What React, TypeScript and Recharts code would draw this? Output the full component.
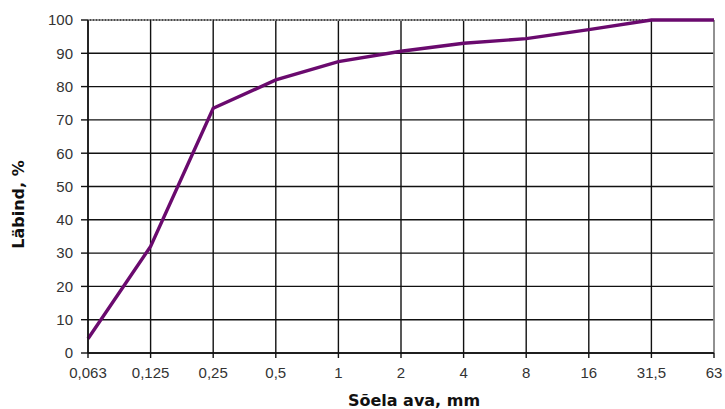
import { LineChart, Line, XAxis, YAxis, CartesianGrid, ReferenceLine } from 'recharts'

const sieveSizes = ['0,063', '0,125', '0,25', '0,5', '1', '2', '4', '8', '16', '31,5', '63']
const passing = [4.3, 32, 73.5, 82, 87.5, 90.6, 93, 94.4, 97.1, 100, 100]
const yTicks = [0, 10, 20, 30, 40, 50, 60, 70, 80, 90, 100]

const data = sieveSizes.map((size, i) => ({ size, value: passing[i] }))

const tickStyle = { fontSize: 15, fill: '#333', fontFamily: '"Liberation Sans", Arial, sans-serif' }
const titleStyle = { fontSize: 16, fontWeight: 'bold', fill: '#111', fontFamily: '"DejaVu Sans", Verdana, sans-serif' }

type LabelProps = { viewBox?: { x: number; y: number; width: number; height: number } }

// titles sit a bit off centre in the original, so draw them by hand
const XTitle = ({ viewBox }: LabelProps) => {
  if (!viewBox) return null
  return (
    <text x={viewBox.x + viewBox.width / 2 + 13} y={viewBox.y + 53} textAnchor="middle" style={titleStyle}>
      Sõela ava, mm
    </text>
  )
}

const YTitle = ({ viewBox }: LabelProps) => {
  if (!viewBox) return null
  const cx = 24
  const cy = viewBox.y + viewBox.height / 2 + 18
  return (
    <text x={cx} y={cy} transform={`rotate(-90, ${cx}, ${cy})`} textAnchor="middle" style={titleStyle}>
      Läbind, %
    </text>
  )
}

export default function App() {
  return (
    <div style={{ position: 'absolute', left: 0, top: 0, width: 725, height: 409, background: '#fff' }}>
      <LineChart width={725} height={409} data={data} margin={{ top: 20, right: 11, bottom: 0, left: 0 }}>
        <CartesianGrid stroke="#111" strokeWidth={1.4} />
        <XAxis
          dataKey="size"
          height={56}
          axisLine={{ stroke: '#111', strokeWidth: 1.4 }}
          tickLine={{ stroke: '#111', strokeWidth: 1.4 }}
          tickSize={5}
          tickMargin={9}
          tick={tickStyle}
          interval={0}
          label={{ content: <XTitle /> }}
        />
        <YAxis
          width={88}
          domain={[0, 100]}
          ticks={yTicks}
          interval={0}
          axisLine={{ stroke: '#111', strokeWidth: 1.4 }}
          tickLine={{ stroke: '#111', strokeWidth: 1.4 }}
          tickSize={7}
          tickMargin={8}
          tick={tickStyle}
          label={{ content: <YTitle /> }}
        />
        <ReferenceLine y={100} stroke="#aaa" strokeWidth={1.4} strokeDasharray="2 1" />
        <ReferenceLine x="63" stroke="#aaa" strokeWidth={1.4} />
        <Line
          type="linear"
          dataKey="value"
          stroke="#6a0a6e"
          strokeWidth={3.4}
          dot={false}
          isAnimationActive={false}
        />
      </LineChart>
    </div>
  )
}
